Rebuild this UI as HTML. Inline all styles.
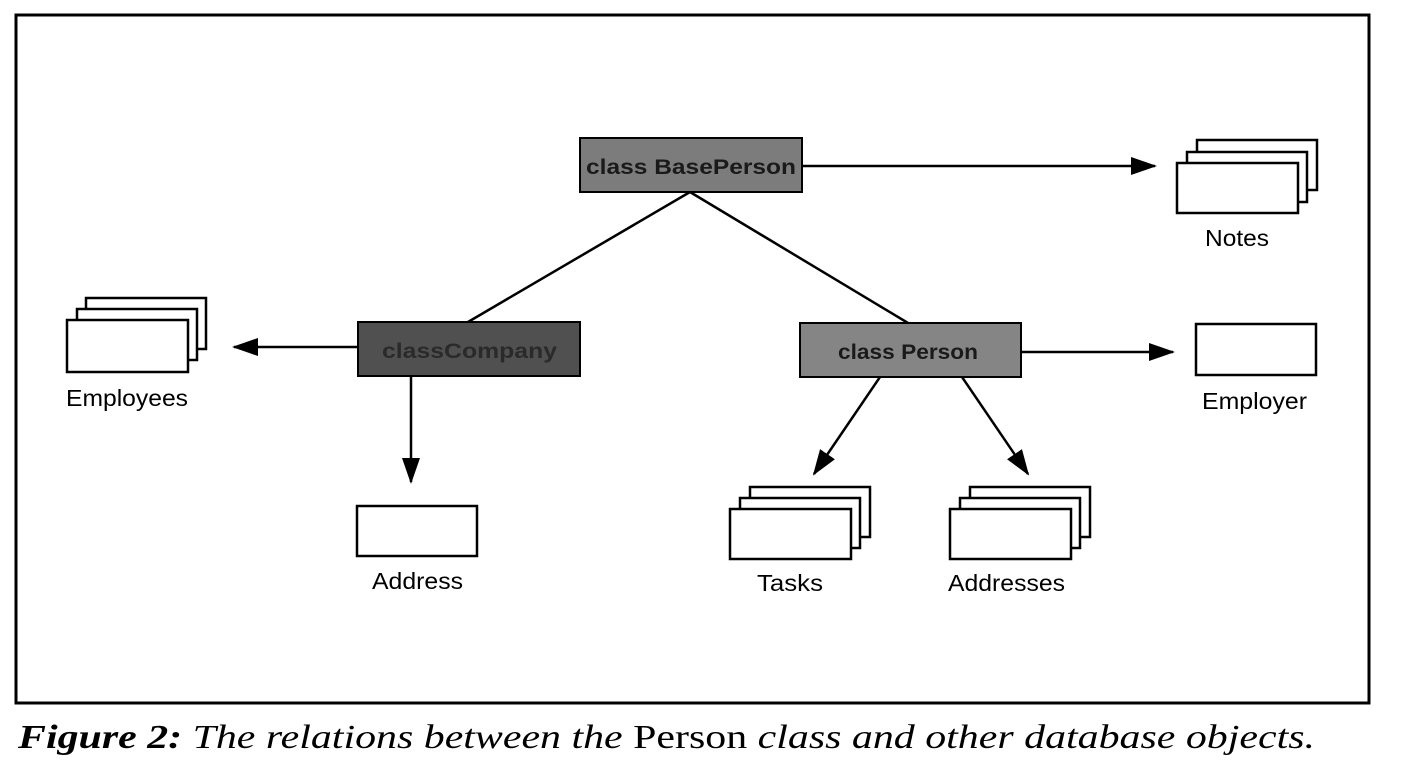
<!DOCTYPE html>
<html><head><meta charset="utf-8"><style>
html,body{margin:0;padding:0;background:#fff;}
svg{display:block;}
</style></head><body>
<svg width="1408" height="784" viewBox="0 0 1408 784" xmlns="http://www.w3.org/2000/svg" font-family="Liberation Sans, sans-serif">
<defs>
<marker id="ah" markerWidth="26" markerHeight="18" refX="24" refY="9" orient="auto" markerUnits="userSpaceOnUse">
<path d="M0,0 L26,9 L0,18 Z" fill="#000"/>
</marker>
</defs>
<rect x="16" y="15" width="1353" height="688" fill="none" stroke="#000" stroke-width="3"/>
<g stroke="#000" stroke-width="2.5" fill="none">
<line x1="802" y1="166" x2="1155" y2="166" marker-end="url(#ah)"/>
<line x1="690" y1="192" x2="468" y2="322"/>
<line x1="690" y1="192" x2="908" y2="323"/>
<line x1="357" y1="347" x2="234" y2="347" marker-end="url(#ah)"/>
<line x1="411" y1="376" x2="411" y2="482" marker-end="url(#ah)"/>
<line x1="1021" y1="352" x2="1173" y2="352" marker-end="url(#ah)"/>
<line x1="880" y1="377" x2="814" y2="474" marker-end="url(#ah)"/>
<line x1="962" y1="377" x2="1028" y2="474" marker-end="url(#ah)"/>
</g>
<rect x="580" y="138" width="222" height="54" fill="#7c7c7c" stroke="#000" stroke-width="2"/>
<text x="586" y="174" font-size="21" font-weight="bold" textLength="210" lengthAdjust="spacingAndGlyphs" fill="#1a1a1a">class BasePerson</text>
<rect x="358" y="322" width="222" height="54" fill="#505050" stroke="#000" stroke-width="2"/>
<text x="382" y="358" font-size="21" font-weight="bold" textLength="175" lengthAdjust="spacingAndGlyphs" fill="#2a2a2a">classCompany</text>
<rect x="800" y="323" width="221" height="54" fill="#858585" stroke="#000" stroke-width="2"/>
<text x="838" y="359" font-size="21" font-weight="bold" textLength="140" lengthAdjust="spacingAndGlyphs" fill="#1a1a1a">class Person</text>
<g fill="#fff" stroke="#000" stroke-width="2.5">
<rect x="86" y="298" width="120" height="51"/><rect x="77" y="309" width="120" height="51"/><rect x="67" y="320" width="121" height="52"/>
<rect x="1197" y="140" width="120" height="50"/><rect x="1187" y="152" width="120" height="50"/><rect x="1177" y="163" width="121" height="50"/>
<rect x="750" y="487" width="120" height="50"/><rect x="740" y="498" width="120" height="50"/><rect x="730" y="509" width="121" height="50"/>
<rect x="970" y="487" width="120" height="50"/><rect x="960" y="498" width="120" height="50"/><rect x="950" y="509" width="121" height="50"/>
<rect x="357" y="506" width="120" height="50"/>
<rect x="1196" y="324" width="120" height="51"/>
</g>
<g font-size="23" fill="#000">
<text x="66" y="406" textLength="122" lengthAdjust="spacingAndGlyphs">Employees</text>
<text x="1205" y="246" textLength="64" lengthAdjust="spacingAndGlyphs">Notes</text>
<text x="1202" y="409" textLength="105" lengthAdjust="spacingAndGlyphs">Employer</text>
<text x="372" y="589" textLength="91" lengthAdjust="spacingAndGlyphs">Address</text>
<text x="757" y="591" textLength="66" lengthAdjust="spacingAndGlyphs">Tasks</text>
<text x="948" y="591" textLength="117" lengthAdjust="spacingAndGlyphs">Addresses</text>
</g>
<text x="18" y="748" font-size="34" font-family="Liberation Serif, serif" font-style="italic" textLength="1297" lengthAdjust="spacingAndGlyphs"><tspan font-weight="bold">Figure 2:</tspan> The relations between the <tspan font-style="normal">Person</tspan> class and other database objects.</text>
</svg>
</body></html>
